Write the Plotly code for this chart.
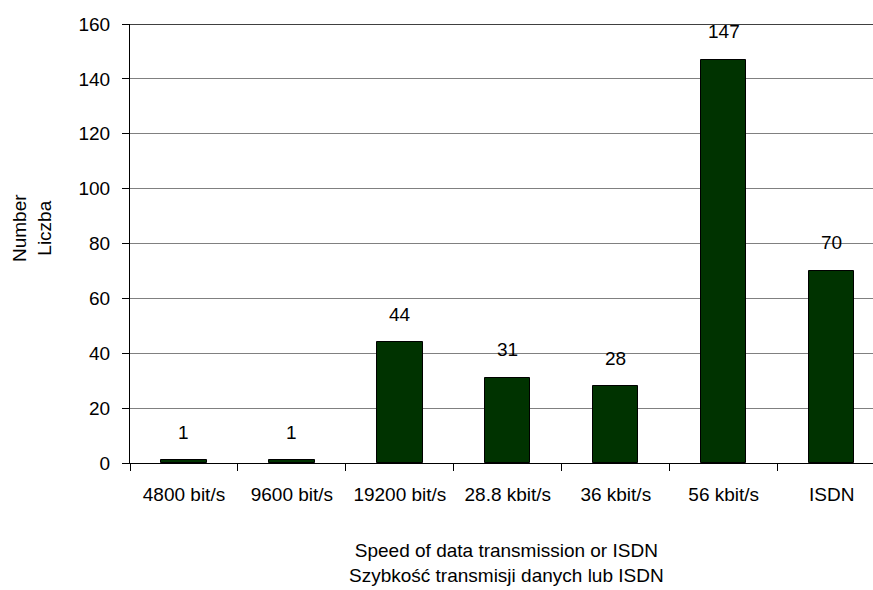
import plotly.graph_objects as go

# Modem speeds / ISDN and number of connections
categories = ["4800 bit/s", "9600 bit/s", "19200 bit/s", "28.8 kbit/s",
              "36 kbit/s", "56 kbit/s", "ISDN"]
counts = [1, 1, 44, 31, 28, 147, 70]
y_ticks = [0, 20, 40, 60, 80, 100, 120, 140, 160]

FONT = "Liberation Sans, Arial, sans-serif"
FS = 19

L, R, T, B = 130, 0, 24, 127
W, H = 873, 590
plot_w = W - L - R
plot_h = H - T - B

fig = go.Figure()
fig.add_trace(go.Bar(
    x=categories,
    y=counts,
    width=0.42,
    marker=dict(color="#003300", line=dict(color="#000000", width=1)),
    hoverinfo="x+y",
))

# value labels above the bars
for c, v in zip(categories, counts):
    fig.add_annotation(x=c, y=v, text=str(v), showarrow=False,
                       yanchor="middle", yshift=28,
                       font=dict(family=FONT, size=FS, color="#000000"))

# dark line at the top of the value axis
fig.add_shape(type="line", xref="paper", yref="y", x0=0, x1=1, y0=160, y1=160,
              line=dict(color="#000000", width=1.5))

# axis titles
fig.add_annotation(xref="paper", yref="paper",
                   x=(507 - L) / plot_w, y=(H - B - 563) / plot_h,
                   text="Speed of data transmission or ISDN<br>Szybkość transmisji danych lub ISDN",
                   showarrow=False, xanchor="center", yanchor="middle",
                   font=dict(family=FONT, size=FS, color="#000000"))
fig.add_annotation(xref="paper", yref="paper",
                   x=(32 - L) / plot_w, y=(H - B - 228) / plot_h,
                   text="Number<br>Liczba", textangle=-90,
                   showarrow=False, xanchor="center", yanchor="middle",
                   font=dict(family=FONT, size=FS, color="#000000"))

fig.update_layout(
    width=W, height=H,
    margin=dict(l=L, r=R, t=T, b=B),
    plot_bgcolor="#ffffff", paper_bgcolor="#ffffff",
    showlegend=False,
    font=dict(family=FONT, size=FS, color="#000000"),
    bargap=0,
)
fig.update_xaxes(
    type="category",
    range=[-0.5, 6.383],
    tickson="boundaries",
    ticks="outside", ticklen=7, tickcolor="#000000",
    ticklabelstandoff=14,
    showline=True, linecolor="#000000", linewidth=1,
    showgrid=False,
    tickfont=dict(family=FONT, size=FS),
)
fig.update_yaxes(
    range=[0, 160],
    tickvals=y_ticks,
    ticks="outside", ticklen=7, tickcolor="#000000",
    ticklabelstandoff=8,
    showline=True, linecolor="#000000", linewidth=1,
    showgrid=True, gridcolor="#808080", gridwidth=1,
    zeroline=False,
    tickfont=dict(family=FONT, size=FS),
)

fig.write_html("out.html")
